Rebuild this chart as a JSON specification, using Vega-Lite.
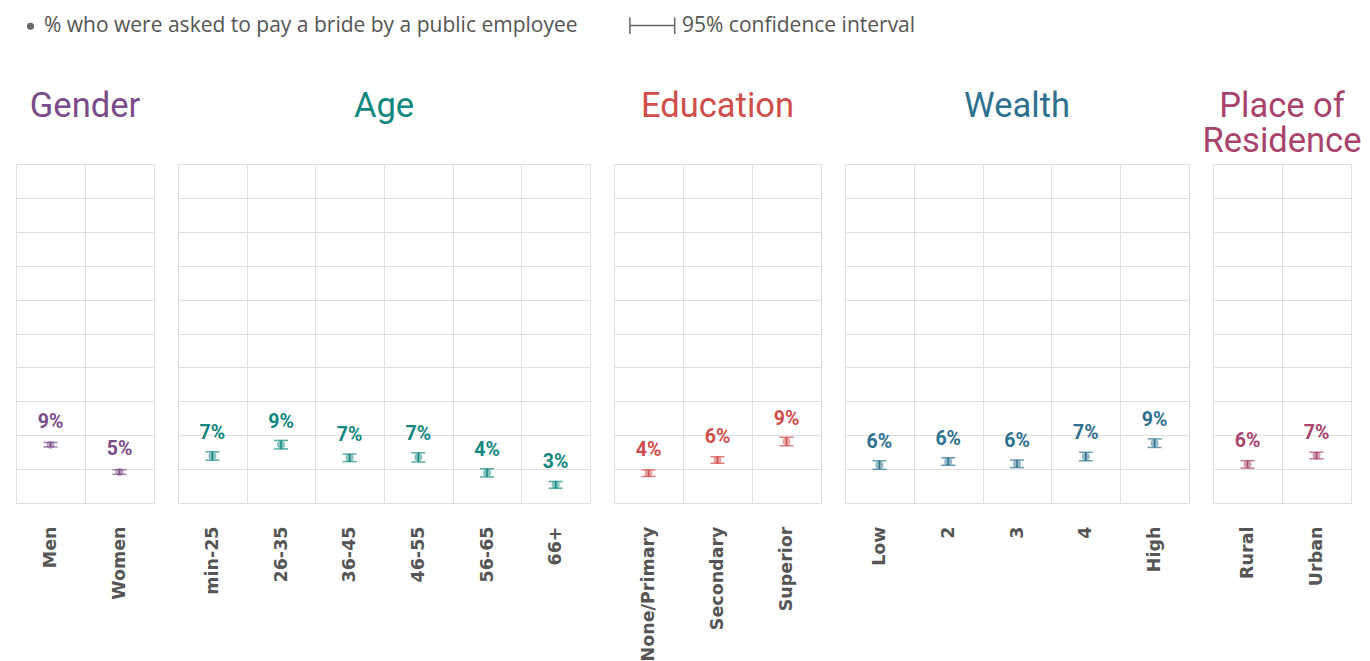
{
  "$schema": "https://vega.github.io/schema/vega-lite/v6.json",
  "padding": {"left": 6, "top": 8, "right": 5, "bottom": 0},
  "bounds": "flush",
  "spacing": 24,
  "background": "white",
  "config": {
    "view": {"stroke": "#d6d6d6", "strokeWidth": 1},
    "axis": {"gridColor": "#e0e0e0", "gridWidth": 1},
    "axisY": {"values": [0, 5, 10, 15, 20, 25, 30, 35, 40, 45, 50], "labels": false, "ticks": false, "domain": false, "title": null, "grid": true},
    "axisX": {"title": null, "labelAngle": -90, "labelAlign": "right", "labelBaseline": "middle", "ticks": false, "domain": false, "grid": true, "tickBand": "extent", "labelPadding": 23, "labelFont": "DejaVu Sans", "labelFontWeight": "bold", "labelFontSize": 17.5, "labelColor": "#555555"},
    "title": {"font": "Roboto", "fontSize": 34.5, "fontWeight": "normal", "anchor": "middle", "frame": "group", "lineHeight": 35}
  },
  "datasets": {
    "rows": [
      {"group": "Gender", "cat": "Men", "v": 8.6, "lo": 8.27, "hi": 8.93, "label": "9%"},
      {"group": "Gender", "cat": "Women", "v": 4.57, "lo": 4.24, "hi": 4.9, "label": "5%"},
      {"group": "Age", "cat": "min-25", "v": 6.93, "lo": 6.3, "hi": 7.56, "label": "7%"},
      {"group": "Age", "cat": "26-35", "v": 8.6, "lo": 7.97, "hi": 9.23, "label": "9%"},
      {"group": "Age", "cat": "36-45", "v": 6.66, "lo": 6.11, "hi": 7.21, "label": "7%"},
      {"group": "Age", "cat": "46-55", "v": 6.73, "lo": 6.05, "hi": 7.41, "label": "7%"},
      {"group": "Age", "cat": "56-65", "v": 4.45, "lo": 3.85, "hi": 5.05, "label": "4%"},
      {"group": "Age", "cat": "66+", "v": 2.68, "lo": 2.18, "hi": 3.18, "label": "3%"},
      {"group": "Education", "cat": "None/Primary", "v": 4.4, "lo": 3.92, "hi": 4.88, "label": "4%"},
      {"group": "Education", "cat": "Secondary", "v": 6.34, "lo": 5.86, "hi": 6.82, "label": "6%"},
      {"group": "Education", "cat": "Superior", "v": 9.07, "lo": 8.44, "hi": 9.7, "label": "9%"},
      {"group": "Wealth", "cat": "Low", "v": 5.6, "lo": 4.97, "hi": 6.23, "label": "6%"},
      {"group": "Wealth", "cat": "2", "v": 6.12, "lo": 5.57, "hi": 6.67, "label": "6%"},
      {"group": "Wealth", "cat": "3", "v": 5.78, "lo": 5.23, "hi": 6.33, "label": "6%"},
      {"group": "Wealth", "cat": "4", "v": 6.86, "lo": 6.23, "hi": 7.49, "label": "7%"},
      {"group": "Wealth", "cat": "High", "v": 8.82, "lo": 8.19, "hi": 9.45, "label": "9%"},
      {"group": "Place", "cat": "Rural", "v": 5.7, "lo": 5.15, "hi": 6.25, "label": "6%"},
      {"group": "Place", "cat": "Urban", "v": 7.0, "lo": 6.52, "hi": 7.48, "label": "7%"}
    ]
  },
  "data": {"name": "rows"},
  "hconcat": [
    {
      "width": 138, "height": 339,
      "title": {"text": "Gender", "color": "#7b4b8a", "offset": 40},
      "transform": [{"filter": "datum.group === 'Gender'"}],
      "encoding": {
        "x": {"field": "cat", "type": "nominal", "sort": null, "scale": {"type": "band", "padding": 0}},
        "y": {"field": "v", "type": "quantitative", "title": null, "scale": {"domain": [0, 50], "nice": false}}
      },
      "layer": [
        {
          "mark": {"type": "point", "opacity": 0, "filled": false, "color": "#666666"},
          "encoding": {
            "shape": {
              "datum": "% who were asked to pay a bride by a public employee",
              "scale": {
                "domain": ["% who were asked to pay a bride by a public employee", "95% confidence interval"],
                "range": [
                  "M-0.05,0A0.7,0.7 0 1,1 -1.45,0A0.7,0.7 0 1,1 -0.05,0ZM-0.37,0A0.38,0.38 0 1,1 -1.13,0A0.38,0.38 0 1,1 -0.37,0ZM-0.65,0A0.1,0.1 0 1,1 -0.85,0A0.1,0.1 0 1,1 -0.65,0Z",
                  "M-10.4,-2.1L-10.4,2.1M-10.4,0L0.8,0M0.8,-2.1L0.8,2.1"
                ]
              },
              "legend": {
                "title": null, "orient": "top", "direction": "horizontal", "offset": 44, "padding": 7,
                "symbolSize": 64, "symbolStrokeWidth": 1.5, "labelFont": "Open Sans", "labelFontSize": 21, "labelColor": "#555555",
                "labelLimit": 800, "labelOffset": 0, "columnPadding": 48
              }
            }
          }
        },
        {"mark": {"type": "point", "filled": true, "size": 64, "opacity": 0.5, "color": "#7b4b8a"}},
        {
          "mark": {"type": "errorbar", "ticks": {"size": 14, "thickness": 1.5}, "thickness": 1.5, "color": "#7b4b8a"},
          "encoding": {"y": {"field": "lo", "type": "quantitative", "title": null, "scale": {"domain": [0, 50], "nice": false}}, "y2": {"field": "hi"}}
        },
        {
          "mark": {"type": "text", "font": "Roboto", "fontWeight": "bold", "fontSize": 19.5, "dy": -17, "baseline": "alphabetic", "color": "#7b4b8a"},
          "encoding": {"text": {"field": "label"}}
        }
      ]
    },
    {
      "width": 412, "height": 339,
      "title": {"text": "Age", "color": "#12877f", "offset": 40},
      "transform": [{"filter": "datum.group === 'Age'"}],
      "encoding": {
        "x": {"field": "cat", "type": "nominal", "sort": null, "scale": {"type": "band", "padding": 0}},
        "y": {"field": "v", "type": "quantitative", "title": null, "scale": {"domain": [0, 50], "nice": false}}
      },
      "layer": [
        {"mark": {"type": "point", "filled": true, "size": 64, "opacity": 0.5, "color": "#12877f"}},
        {
          "mark": {"type": "errorbar", "ticks": {"size": 14, "thickness": 1.5}, "thickness": 1.5, "color": "#12877f"},
          "encoding": {"y": {"field": "lo", "type": "quantitative", "title": null, "scale": {"domain": [0, 50], "nice": false}}, "y2": {"field": "hi"}}
        },
        {
          "mark": {"type": "text", "font": "Roboto", "fontWeight": "bold", "fontSize": 19.5, "dy": -17, "baseline": "alphabetic", "color": "#12877f"},
          "encoding": {"text": {"field": "label"}}
        }
      ]
    },
    {
      "width": 207, "height": 339,
      "title": {"text": "Education", "color": "#cf4d4a", "offset": 40},
      "transform": [{"filter": "datum.group === 'Education'"}],
      "encoding": {
        "x": {"field": "cat", "type": "nominal", "sort": null, "scale": {"type": "band", "padding": 0}},
        "y": {"field": "v", "type": "quantitative", "title": null, "scale": {"domain": [0, 50], "nice": false}}
      },
      "layer": [
        {"mark": {"type": "point", "filled": true, "size": 64, "opacity": 0.5, "color": "#cf4d4a"}},
        {
          "mark": {"type": "errorbar", "ticks": {"size": 14, "thickness": 1.5}, "thickness": 1.5, "color": "#cf4d4a"},
          "encoding": {"y": {"field": "lo", "type": "quantitative", "title": null, "scale": {"domain": [0, 50], "nice": false}}, "y2": {"field": "hi"}}
        },
        {
          "mark": {"type": "text", "font": "Roboto", "fontWeight": "bold", "fontSize": 19.5, "dy": -17, "baseline": "alphabetic", "color": "#cf4d4a"},
          "encoding": {"text": {"field": "label"}}
        }
      ]
    },
    {
      "width": 344, "height": 339,
      "title": {"text": "Wealth", "color": "#2e7090", "offset": 40},
      "transform": [{"filter": "datum.group === 'Wealth'"}],
      "encoding": {
        "x": {"field": "cat", "type": "nominal", "sort": null, "scale": {"type": "band", "padding": 0}},
        "y": {"field": "v", "type": "quantitative", "title": null, "scale": {"domain": [0, 50], "nice": false}}
      },
      "layer": [
        {"mark": {"type": "point", "filled": true, "size": 64, "opacity": 0.5, "color": "#2e7090"}},
        {
          "mark": {"type": "errorbar", "ticks": {"size": 14, "thickness": 1.5}, "thickness": 1.5, "color": "#2e7090"},
          "encoding": {"y": {"field": "lo", "type": "quantitative", "title": null, "scale": {"domain": [0, 50], "nice": false}}, "y2": {"field": "hi"}}
        },
        {
          "mark": {"type": "text", "font": "Roboto", "fontWeight": "bold", "fontSize": 19.5, "dy": -17, "baseline": "alphabetic", "color": "#2e7090"},
          "encoding": {"text": {"field": "label"}}
        }
      ]
    },
    {
      "width": 138, "height": 339,
      "title": {"text": ["Place of", "Residence"], "color": "#a7436c", "offset": 5},
      "transform": [{"filter": "datum.group === 'Place'"}],
      "encoding": {
        "x": {"field": "cat", "type": "nominal", "sort": null, "scale": {"type": "band", "padding": 0}},
        "y": {"field": "v", "type": "quantitative", "title": null, "scale": {"domain": [0, 50], "nice": false}}
      },
      "layer": [
        {"mark": {"type": "point", "filled": true, "size": 64, "opacity": 0.5, "color": "#a7436c"}},
        {
          "mark": {"type": "errorbar", "ticks": {"size": 14, "thickness": 1.5}, "thickness": 1.5, "color": "#a7436c"},
          "encoding": {"y": {"field": "lo", "type": "quantitative", "title": null, "scale": {"domain": [0, 50], "nice": false}}, "y2": {"field": "hi"}}
        },
        {
          "mark": {"type": "text", "font": "Roboto", "fontWeight": "bold", "fontSize": 19.5, "dy": -17, "baseline": "alphabetic", "color": "#a7436c"},
          "encoding": {"text": {"field": "label"}}
        }
      ]
    }
  ]
}
